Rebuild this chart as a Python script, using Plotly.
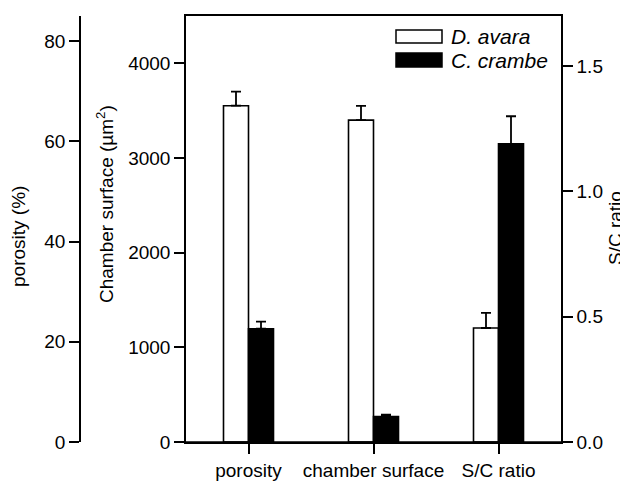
import plotly.graph_objects as go

# page body has an 8px default margin, so the figure is drawn 8px smaller
# and all pixel positions below are given in window coordinates
OFF = 8
W, H = 628 - OFF, 481 - OFF

categories = ["porosity", "chamber surface", "S/C ratio"]
davara_vals = [67.1, 3400, 0.455]
davara_err = [2.8, 150, 0.06]
ccrambe_vals = [22.6, 270, 1.19]
ccrambe_err = [1.4, 20, 0.11]
cat_axes = ["y2", "y", "y3"]
series_names = ["D. avara", "C. crambe"]
series_colors = ["white", "black"]

porosity_ticks = [0, 20, 40, 60, 80]
chamber_ticks = [0, 1000, 2000, 3000, 4000]
ratio_ticks = [0.0, 0.5, 1.0, 1.5]

FONT = "Liberation Sans, Arial, sans-serif"
FS = 19


def px(x):
    return (x - OFF) / W


def py(y):
    return 1 - (y - OFF) / H


fig = go.Figure()
for vals, errs, color, name, off in [
    (davara_vals, davara_err, series_colors[0], series_names[0], -0.2),
    (ccrambe_vals, ccrambe_err, series_colors[1], series_names[1], 0.0),
]:
    for i, cat in enumerate(categories):
        fig.add_trace(go.Bar(
            x=[cat], y=[vals[i]], yaxis=cat_axes[i], name=name,
            offset=off, width=0.2,
            marker=dict(color=color, line=dict(color="black", width=1.6)),
            error_y=dict(type="data", array=[errs[i]], arrayminus=[0],
                         symmetric=False, color="black", thickness=1.8, width=5),
            showlegend=False,
        ))

x0, x1 = 186, 561
y0, y1 = 442, 16
axis_common = dict(showline=True, linecolor="black", linewidth=1.5,
                   ticks="outside", ticklen=10, tickwidth=1.5, tickcolor="black",
                   showgrid=False, zeroline=False,
                   tickfont=dict(family=FONT, size=FS, color="black"))

fig.update_layout(
    width=W, height=H,
    margin=dict(l=0, r=0, t=0, b=0, autoexpand=False),
    paper_bgcolor="white", plot_bgcolor="white",
    barmode="overlay",
    showlegend=False,
    xaxis=dict(domain=[px(x0), px(x1)], type="category", range=[-0.5, 2.5],
               categoryorder="array", categoryarray=categories,
               mirror=True, anchor="y", **axis_common),
    yaxis=dict(domain=[py(y0), py(y1)], range=[0, 4500],
               tickvals=chamber_ticks, anchor="x", **axis_common),
    yaxis2=dict(overlaying="y", anchor="free", position=px(80), range=[0, 85],
                tickvals=porosity_ticks, **axis_common),
    yaxis3=dict(overlaying="y", anchor="x", side="right", range=[0, 1.7],
                tickvals=ratio_ticks, tickformat=".1f", **axis_common),
)

# baseline extends slightly beyond the frame
fig.add_shape(type="line", xref="paper", yref="paper",
              x0=px(180), x1=px(568), y0=py(y0), y1=py(y0),
              line=dict(color="black", width=1.5))

# axis titles
titles = [
    ("porosity (%)", 19, 237),
    ("Chamber surface (µm<sup>2</sup>)", 105, 204),
    ("S/C ratio", 616, 228),
]
for text, x, y in titles:
    fig.add_annotation(text=text, x=px(x), y=py(y), xref="paper", yref="paper",
                       xanchor="center", yanchor="middle", textangle=-90,
                       showarrow=False, font=dict(family=FONT, size=FS, color="black"))

# legend
legend_rows = [(30, 43), (53, 67)]
for (ya, yb), name, color in zip(legend_rows, series_names, series_colors):
    fig.add_shape(type="rect", xref="paper", yref="paper",
                  x0=px(396), x1=px(442), y0=py(yb), y1=py(ya),
                  fillcolor=color, line=dict(color="black", width=1.5))
    fig.add_annotation(text=f"<i>{name}</i>", x=px(449), y=py((ya + yb) / 2),
                       xref="paper", yref="paper", xanchor="left", yanchor="middle",
                       showarrow=False, font=dict(family=FONT, size=21, color="black"))

fig.write_html("out.html")
